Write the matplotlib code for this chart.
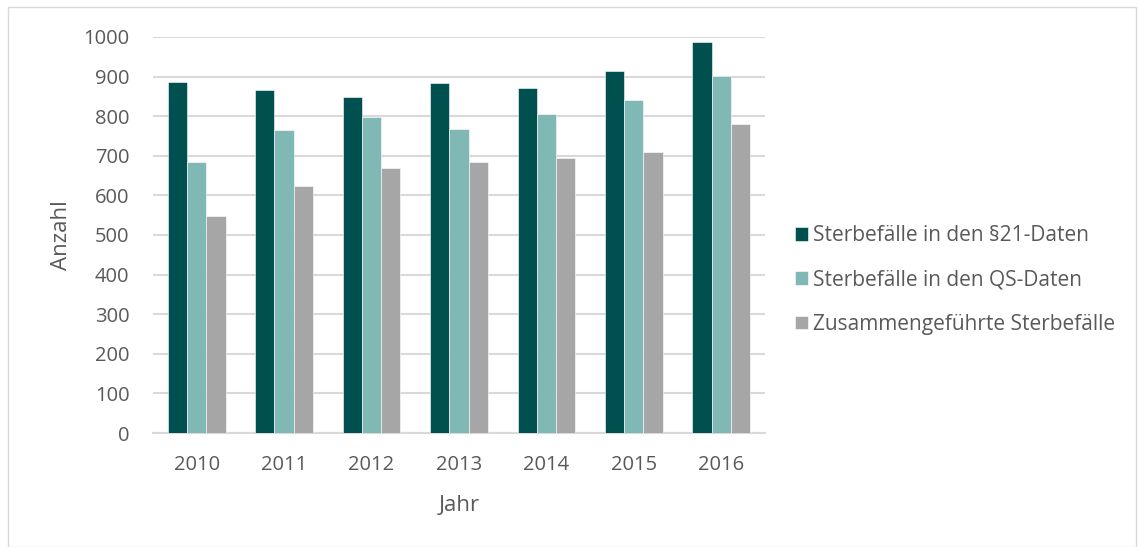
import matplotlib.pyplot as plt
import numpy as np
from matplotlib.patches import Rectangle

plt.rcParams['font.family'] = ['Open Sans', 'DejaVu Sans']

years = ['2010', '2011', '2012', '2013', '2014', '2015', '2016']
faelle_21 = [887, 865, 848, 884, 870, 913, 988]
faelle_qs = [685, 766, 798, 768, 806, 840, 902]
zusammen = [548, 624, 669, 684, 694, 710, 780]
labels = ['Sterbefälle in den §21-Daten', 'Sterbefälle in den QS-Daten',
          'Zusammengeführte Sterbefälle']
colors = ['#00504F', '#7FB8B4', '#A6A6A6']

txt = '#595959'
fig = plt.figure(figsize=(11.39, 5.47), dpi=100)
ax = fig.add_axes([0.1343, 0.2084, 0.5373, 0.724])

x = np.arange(len(years))
w = 0.22
for i, (vals, lab, col) in enumerate(zip([faelle_21, faelle_qs, zusammen], labels, colors)):
    ax.bar(x + (i - 1) * w, vals, w, color=col, label=lab, zorder=3,
           edgecolor='white', linewidth=0.4)

ax.set_xlim(-0.5, len(years) - 0.5)
ax.set_ylim(0, 1000)
ax.set_yticks(range(0, 1001, 100))
ax.set_xticks(x)
ax.set_xticklabels(years)
ax.grid(axis='y', color='#D9D9D9', linewidth=1.5, zorder=0)
for s in ['top', 'right', 'left']:
    ax.spines[s].set_visible(False)
ax.spines['bottom'].set_color('#D9D9D9')
ax.spines['bottom'].set_linewidth(1.5)
ax.tick_params(axis='both', length=0, labelsize=14.5, labelcolor=txt)
ax.tick_params(axis='y', pad=17)
ax.tick_params(axis='x', pad=16)
ax.set_ylabel('Anzahl', fontsize=16, color=txt, labelpad=8)
ax.set_xlabel('Jahr', fontsize=16, color=txt, labelpad=14)

ax.legend(loc='center left', bbox_to_anchor=(0.689, 0.488),
          bbox_transform=fig.transFigure, frameon=False, borderpad=0,
          fontsize=15, labelcolor=txt, handlelength=0.62, handleheight=0.62,
          handletextpad=0.25, labelspacing=1.12)

fig.patches.append(Rectangle((0.007, 0.0), 0.99, 0.987, transform=fig.transFigure,
                             fill=False, edgecolor='#D9D9D9', linewidth=1))

fig.savefig('out.png', dpi=100)
